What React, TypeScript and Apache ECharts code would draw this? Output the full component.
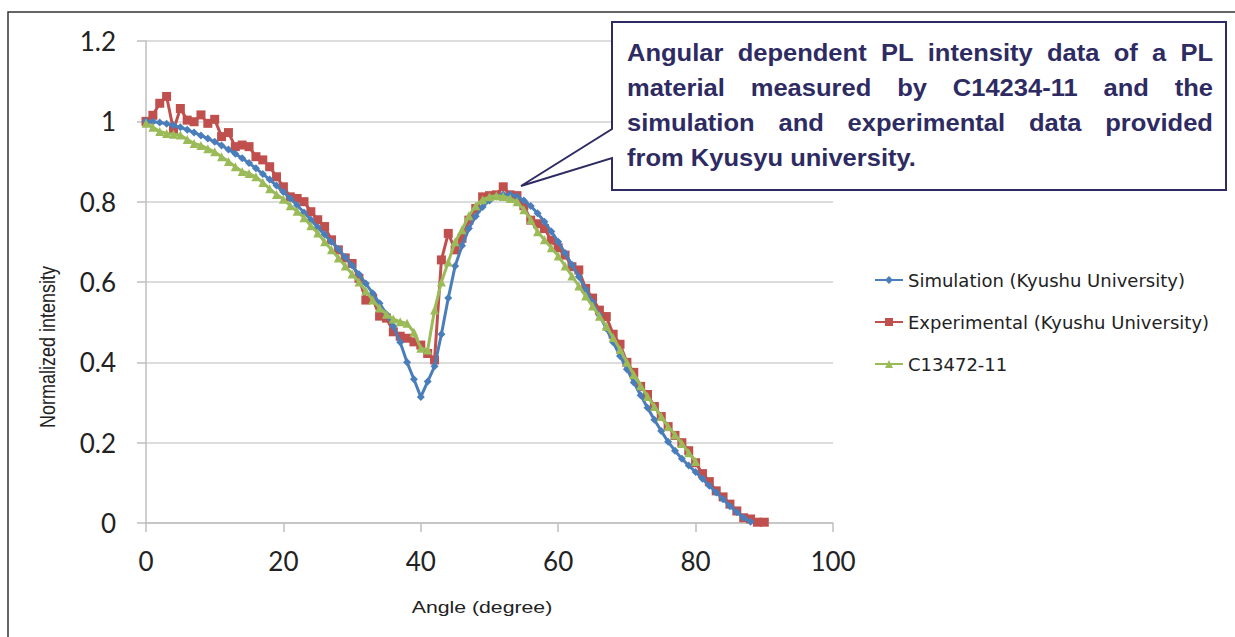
import { useEffect, useRef } from "react";
import * as echarts from "echarts";

// Normalized PL intensity per degree (angle = index, in degrees)
const simulation = [
  1.0, 0.999, 0.997, 0.994, 0.99, 0.985, 0.979, 0.972, 0.965, 0.957,
  0.949, 0.94, 0.93, 0.919, 0.908, 0.896, 0.883, 0.869, 0.855, 0.84,
  0.824, 0.808, 0.791, 0.773, 0.755, 0.736, 0.718, 0.7, 0.682, 0.662,
  0.641, 0.619, 0.596, 0.572, 0.547, 0.52, 0.49, 0.45, 0.4, 0.358,
  0.314, 0.352, 0.39, 0.47, 0.56, 0.64, 0.69, 0.733, 0.764, 0.787,
  0.803, 0.813, 0.818, 0.818, 0.813, 0.803, 0.789, 0.771, 0.75, 0.726,
  0.7, 0.672, 0.643, 0.613, 0.582, 0.55, 0.517, 0.484, 0.45, 0.416,
  0.383, 0.35, 0.318, 0.287, 0.257, 0.229, 0.202, 0.18, 0.16, 0.143,
  0.127, 0.11, 0.093, 0.076, 0.059, 0.042, 0.027, 0.013, 0.003,
];

const experimental = [
  1.0, 1.015, 1.045, 1.062, 0.978, 1.032, 1.003, 0.999, 1.016, 0.995,
  1.005, 0.962, 0.972, 0.937, 0.941, 0.937, 0.912, 0.904, 0.887, 0.862,
  0.837, 0.812, 0.808, 0.8, 0.775, 0.755, 0.738, 0.705, 0.68, 0.66,
  0.646, 0.609, 0.555, 0.559, 0.515, 0.51, 0.476, 0.465, 0.46, 0.451,
  0.443, 0.422, 0.406, 0.655, 0.721, 0.68, 0.709, 0.754, 0.783, 0.812,
  0.815, 0.817, 0.837, 0.817, 0.815, 0.79, 0.754, 0.745, 0.733, 0.704,
  0.685, 0.667, 0.638, 0.63, 0.584, 0.56, 0.53, 0.514, 0.47, 0.445,
  0.4, 0.375, 0.34, 0.32, 0.29, 0.265, 0.24, 0.218, 0.2, 0.18,
  0.15, 0.123, 0.103, 0.08, 0.065, 0.047, 0.03, 0.013, 0.01, 0.002,
  0.002,
];

const c13472 = [
  0.995, 0.985, 0.975, 0.97, 0.968, 0.966, 0.955, 0.945, 0.94, 0.932,
  0.924, 0.912, 0.9, 0.887, 0.875, 0.87, 0.862, 0.848, 0.832, 0.818,
  0.806, 0.79, 0.776, 0.76, 0.74, 0.722, 0.7, 0.68, 0.66, 0.64,
  0.62, 0.6, 0.578, 0.555, 0.535, 0.52, 0.508, 0.501, 0.497, 0.475,
  0.435, 0.431, 0.53, 0.6, 0.65, 0.7, 0.73, 0.765, 0.79, 0.805,
  0.812, 0.815, 0.813, 0.808, 0.8, 0.78, 0.755, 0.725, 0.705, 0.685,
  0.665, 0.64, 0.615, 0.59, 0.565, 0.54, 0.515, 0.49, 0.462, 0.432,
  0.4, 0.37, 0.342, 0.315, 0.29, 0.265, 0.24, 0.22, 0.198, 0.175,
  0.153,
];

const seriesNames = [
  "Simulation (Kyushu University)",
  "Experimental (Kyushu University)",
  "C13472-11",
];
const seriesColors = ["#4A7EBB", "#C0504D", "#9BBB59"];

const xTicks = [0, 20, 40, 60, 80, 100];
const yTicks = [0, 0.2, 0.4, 0.6, 0.8, 1, 1.2];

const xAxisTitle = "Angle (degree)";
const yAxisTitle = "Normalized intensity";

const calloutLines = [
  "Angular dependent PL intensity data of a PL",
  "material measured by C14234-11 and the",
  "simulation and experimental data provided",
  "from Kyusyu university.",
];

const CALLOUT_FONT_SIZE = 23;
const CALLOUT_SCALE_X = 1.11;
const CALLOUT_FONT = `bold ${CALLOUT_FONT_SIZE}px "Liberation Sans", Arial, sans-serif`;
const CALLOUT_COLOR = "#2E2B62";

function buildCalloutText(): any[] {
  const canvas = document.createElement("canvas");
  const ctx = canvas.getContext("2d")!;
  ctx.font = CALLOUT_FONT;
  const left = 627;
  const right = 1213;
  const width = right - left;
  const out: any[] = [];
  calloutLines.forEach((line, li) => {
    const y = 53 + li * 35;
    const words = line.split(" ");
    const isLast = li === calloutLines.length - 1;
    const widths = words.map((w) => ctx.measureText(w).width * CALLOUT_SCALE_X);
    const total = widths.reduce((a, b) => a + b, 0);
    const gap = isLast
      ? ctx.measureText(" ").width * CALLOUT_SCALE_X
      : (width - total) / (words.length - 1);
    let x = left;
    words.forEach((w, wi) => {
      out.push({
        type: "text",
        z: 101,
        x,
        y,
        scaleX: CALLOUT_SCALE_X,
        style: {
          text: w,
          font: CALLOUT_FONT,
          fill: CALLOUT_COLOR,
          textAlign: "left",
          textVerticalAlign: "middle",
        },
      });
      x += widths[wi] + gap;
    });
  });
  return out;
}

export default function App() {
  const ref = useRef<HTMLDivElement>(null);

  useEffect(() => {
    if (!ref.current) return;
    const chart = echarts.init(ref.current, undefined, { renderer: "svg" });

    const mk = (arr: number[]) => arr.map((v, i) => [i, v]);
    const symbols = ["diamond", "rect", "triangle"];
    const symbolSizes = [8, 9, 9];
    const datasets = [simulation, experimental, c13472];

    const option: any = {
      animation: false,
      backgroundColor: "#ffffff",
      grid: { left: 146, right: 402, top: 41, bottom: 114, containLabel: false },
      xAxis: {
        type: "value",
        min: xTicks[0],
        max: xTicks[xTicks.length - 1],
        interval: 20,
        axisLine: { show: true, lineStyle: { color: "#BFBFBF", width: 1.5 } },
        axisTick: { show: true, length: 9, lineStyle: { color: "#BFBFBF", width: 1.5 } },
        axisLabel: {
          margin: 25,
          fontFamily: "Lato, 'Open Sans', sans-serif",
          fontSize: 26,
          color: "#222222",
        },
        splitLine: { show: false },
      },
      yAxis: {
        type: "value",
        min: yTicks[0],
        max: yTicks[yTicks.length - 1],
        interval: 0.2,
        axisLine: { show: true, lineStyle: { color: "#BFBFBF", width: 1.5 } },
        axisTick: { show: true, length: 9, lineStyle: { color: "#BFBFBF", width: 1.5 } },
        axisLabel: {
          margin: 30,
          fontFamily: "Lato, 'Open Sans', sans-serif",
          fontSize: 26,
          color: "#222222",
          formatter: (v: number) => String(+v.toFixed(1)),
        },
        splitLine: { show: true, lineStyle: { color: "#D0D0D0", width: 1.5 } },
      },
      legend: {
        orient: "vertical",
        left: 869,
        top: 266,
        itemGap: 24,
        itemWidth: 28,
        itemHeight: 10,
        data: seriesNames,
        textStyle: {
          fontFamily: "'DejaVu Sans', sans-serif",
          fontSize: 18,
          color: "#222222",
        },
      },
      series: datasets.map((d, i) => ({
        name: seriesNames[i],
        type: "line",
        data: mk(d),
        symbol: symbols[i],
        symbolSize: symbolSizes[i],
        showAllSymbol: true,
        lineStyle: { color: seriesColors[i], width: 3 },
        itemStyle: { color: seriesColors[i] },
        z: 2 + (i === 1 ? 0 : i === 0 ? 1 : 2),
      })),
      graphic: [
        {
          type: "rect",
          z: 100,
          shape: { x: 8, y: 12, width: 1400, height: 800 },
          style: { fill: "none", stroke: "#333333", lineWidth: 1.5 },
          silent: true,
        },
        {
          type: "text",
          z: 100,
          x: 47,
          y: 347,
          rotation: Math.PI / 2,
          scaleY: 1.2,
          style: {
            text: yAxisTitle,
            font: "18px 'Liberation Sans', Arial, sans-serif",
            fill: "#222222",
            textAlign: "center",
            textVerticalAlign: "middle",
          },
        },
        {
          type: "text",
          z: 100,
          x: 482,
          y: 607,
          scaleX: 1.25,
          style: {
            text: xAxisTitle,
            font: "17px 'Liberation Sans', Arial, sans-serif",
            fill: "#222222",
            textAlign: "center",
            textVerticalAlign: "middle",
          },
        },
        {
          type: "polygon",
          z: 100,
          shape: {
            points: [
              [612, 22],
              [1226, 22],
              [1226, 190],
              [612, 190],
              [612, 158],
              [521, 186],
              [612, 129],
            ],
          },
          style: { fill: "#ffffff", stroke: CALLOUT_COLOR, lineWidth: 2 },
        },
        ...buildCalloutText(),
      ],
    };

    chart.setOption(option);
    return () => chart.dispose();
  }, []);

  return (
    <div
      ref={ref}
      style={{ position: "fixed", left: 0, top: 0, width: 1235, height: 637 }}
    />
  );
}
